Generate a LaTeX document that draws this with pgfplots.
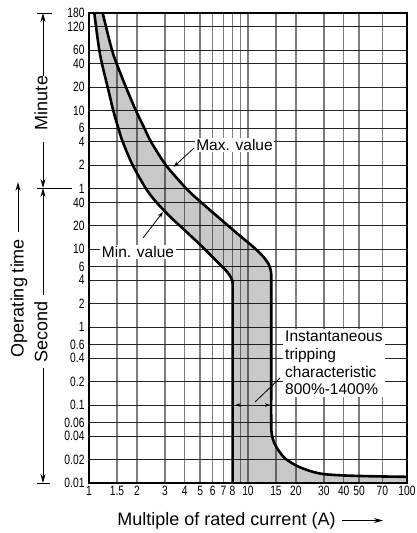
\documentclass[border=0pt]{standalone}
\usepackage{fontspec}
\setmainfont{Liberation Sans}
\newfontfamily\narrowfont[FakeStretch=0.76]{Liberation Sans}
\usepackage{pgfplots}
\pgfplotsset{compat=1.18}
\usetikzlibrary{arrows.meta}
\definecolor{vgrid}{RGB}{125,125,125}
\newcommand\labfont{\fontsize{18}{20}\selectfont}
\newcommand\annfont{\fontsize{15.5}{17.6}\selectfont}
\begin{document}
\begin{tikzpicture}[x=1pt,y=1pt]
\useasboundingbox (0,0) rectangle (417,533);
\begin{axis}[
  at={(89pt,50pt)}, anchor=south west,
  scale only axis, width=318pt, height=470pt,
  xmode=log, ymode=log,
  xmin=0.9999, xmax=100.01, ymin=0.009999, ymax=10801,
  xtick={1,1.5,2,3,4,5,6,7,8,9,10,15,20,30,40,50,70,100},
  xticklabels={1,1.5,2,3,4,5,6,7,8,,10,15,20,30,40,50,70,100},
  ytick={0.01,0.02,0.04,0.06,0.1,0.2,0.4,0.6,1,2,4,6,10,20,40,60,120,240,360,600,1200,2400,3600,7200,10800},
  yticklabels={0.01,0.02,0.04,0.06,0.1,0.2,0.4,0.6,1,2,4,6,10,20,40,1,2,4,6,10,20,40,60,120,180},
  grid=major,
  major x grid style={vgrid, line width=1.3pt},
  major y grid style={black!85, line width=0.9pt},
  major tick length=0pt, minor tick length=0pt,
  axis line style={line width=2.2pt},
  tick label style={font=\narrowfont\fontsize{13.5}{15}\selectfont},
  yticklabel style={xshift=-1pt},
]
% shaded band (min curve down, bottom edge, max curve back up)
\addplot[fill=black, fill opacity=0.215, draw=none] coordinates {
 (1.080,10800) (1.107,7200) (1.161,3600) (1.207,2400) (1.311,1200)
 (1.422,600) (1.529,360) (1.629,240) (1.883,120) (2.283,60) (2.658,40)
 (3.303,25.22) (4.195,16.05) (5.251,10.39) (6.430,6.87) (7.218,5.42)
 (7.649,4.68) (7.931,4.04) (8,3.4) (8,1) (8,0.01)
 (100,0.01) (100,0.012) (60,0.0122) (40,0.0125) (30,0.013) (25,0.0141)
 (20.4,0.0165) (17.2,0.0205) (15.6,0.026) (14.6,0.033) (14.12,0.042)
 (14,0.06) (14,0.3) (14,3) (14,4.3) (13.96,5.11) (13.56,6.29) (12.52,7.96)
 (10.99,10.39) (8.779,15.26) (6.476,25.98) (4.884,42.9) (4.10,60)
 (3.05,120) (2.455,240) (2.228,360) (1.975,600) (1.709,1200) (1.494,2400)
 (1.395,3600) (1.279,7200) (1.219,10800)} -- cycle;
% minimum value curve
\addplot[smooth, black, line width=2.6pt] coordinates {
 (1.080,10800) (1.107,7200) (1.161,3600) (1.207,2400) (1.311,1200)
 (1.422,600) (1.529,360) (1.629,240) (1.883,120) (2.283,60) (2.658,40)
 (3.303,25.22) (4.195,16.05) (5.251,10.39) (6.430,6.87) (7.218,5.42)
 (7.649,4.68) (7.931,4.04) (8,3.4) (8,1) (8,0.01)};
% maximum value curve
\addplot[smooth, black, line width=2.6pt] coordinates {
 (1.219,10800) (1.279,7200) (1.395,3600) (1.494,2400) (1.709,1200)
 (1.975,600) (2.228,360) (2.455,240) (3.05,120) (4.10,60) (4.884,42.9)
 (6.476,25.98) (8.779,15.26) (10.99,10.39) (12.52,7.96) (13.56,6.29)
 (13.96,5.11) (14,4.3) (14,3) (14,0.3) (14,0.06) (14.12,0.042)
 (14.6,0.033) (15.6,0.026) (17.2,0.0205) (20.4,0.0165) (25,0.0141)
 (30,0.013) (40,0.0125) (60,0.0122) (100,0.012)};
\end{axis}
% in-plot annotations
\node[fill=white, inner sep=1.5pt, font=\annfont] at (234.5,388) {Max. value};
\draw[line width=0.8pt, -{Stealth[length=6pt,width=4pt]}] (194,385) -- (173.5,366);
\node[fill=white, inner sep=1.5pt, font=\annfont] at (138,281) {Min. value};
\draw[line width=0.8pt, -{Stealth[length=6pt,width=4pt]}] (143,295) -- (163,321);
\node[fill=white, inner sep=2pt, align=left, anchor=west, font=\annfont] at (283,170)
 {Instantaneous\\tripping\\characteristic\\800\%-1400\%};
\draw[line width=0.8pt] (280,155) -- (255,131);
\draw[line width=0.8pt, -{Stealth[length=5pt,width=3.5pt]}] (244,128) -- (235.5,128);
\draw[line width=0.8pt, -{Stealth[length=5pt,width=3.5pt]}] (261,128) -- (270,128);
% left annotations
\begin{scope}[line width=0.9pt]
\draw (37,520) -- (52,520);
\draw[-{Stealth[length=9pt,width=5pt]}] (43,457) -- (43,520);
\node[rotate=90, font=\labfont] at (41,430) {Minute};
\draw[-{Stealth[length=9pt,width=5pt]}] (43,391) -- (43,345);
\draw (37,345) -- (72,345);
\draw[-{Stealth[length=9pt,width=5pt]}] (43,238) -- (43,345);
\node[rotate=90, font=\labfont] at (41,201) {Second};
\draw[-{Stealth[length=9pt,width=5pt]}] (43,165) -- (43,50);
\draw (37,50) -- (50,50);
\draw[-{Stealth[length=9pt,width=5pt]}] (18,301) -- (18,351);
\node[rotate=90, font=\labfont] at (19,235) {Operating time};
\node[anchor=base, font=\labfont] at (226.5,7) {Multiple of rated current (A)};
\draw[-{Stealth[length=9pt,width=5pt]}] (342,12.5) -- (383,12.5);
\end{scope}
\end{tikzpicture}
\end{document}
